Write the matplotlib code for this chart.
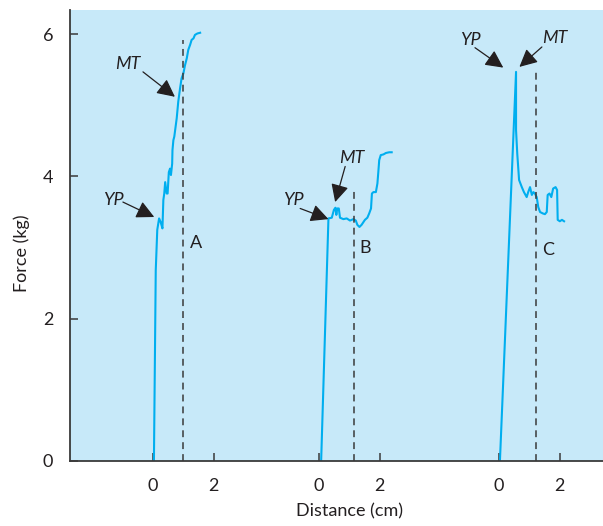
import numpy as np
import matplotlib.pyplot as plt

plt.rcParams['font.family'] = ['Lato', 'DejaVu Sans']

# Force-distance traces (distance in cm from each panel's own zero, force in kg)
trace_a_x = [0.04, 0.10, 0.15, 0.21, 0.26, 0.32, 0.35, 0.38, 0.41, 0.46, 0.49, 0.53, 0.57,
             0.60, 0.64, 0.65, 0.68, 0.71, 0.79, 0.84, 0.90, 0.95, 1.01, 1.06, 1.12,
             1.17, 1.23, 1.28, 1.34, 1.39, 1.47, 1.56]
trace_a_y = [0.00, 2.68, 3.25, 3.41, 3.36, 3.27, 3.67, 3.76, 3.92, 3.76, 3.76, 4.06, 4.11,
             4.02, 4.18, 4.37, 4.51, 4.56, 4.82, 5.05, 5.24, 5.38, 5.45, 5.56, 5.66,
             5.78, 5.85, 5.92, 5.94, 5.99, 6.01, 6.02]

trace_b_x = [0.08, 0.32, 0.43, 0.50, 0.55, 0.58, 0.61, 0.66, 0.70, 0.81, 0.92, 1.03, 1.14,
             1.22, 1.27, 1.34, 1.41, 1.52, 1.60, 1.66, 1.72, 1.75, 1.80, 1.88, 1.93,
             1.96, 1.99, 2.04, 2.13, 2.21, 2.32, 2.40]
trace_b_y = [0.00, 3.41, 3.42, 3.53, 3.56, 3.46, 3.55, 3.55, 3.42, 3.40, 3.41, 3.38, 3.40,
             3.38, 3.32, 3.29, 3.32, 3.39, 3.42, 3.48, 3.55, 3.76, 3.78, 3.78, 3.90,
             4.06, 4.23, 4.30, 4.31, 4.33, 4.34, 4.34]

trace_c_x = [0.03, 0.56, 0.56, 0.60, 0.66, 0.75, 0.82, 0.91, 0.96, 1.02, 1.08, 1.13, 1.18,
             1.24, 1.29, 1.35, 1.44, 1.51, 1.57, 1.60, 1.66, 1.72, 1.78, 1.86, 1.91,
             1.93, 2.00, 2.07, 2.14]
trace_c_y = [0.00, 5.47, 4.65, 4.32, 3.95, 3.85, 3.78, 3.71, 3.78, 3.85, 3.74, 3.78, 3.76,
             3.71, 3.57, 3.50, 3.48, 3.47, 3.50, 3.74, 3.76, 3.71, 3.83, 3.85, 3.81,
             3.39, 3.37, 3.39, 3.37]

panel_offsets = [0.0, 5.46, 11.39]
panel_names = ['A', 'B', 'C']
# dashed marker lines: x position (cm) and height (kg)
dash_x = [0.99, 1.15, 1.23]
dash_top = [5.92, 3.81, 5.47]

x_ticks = [0, 2]
y_ticks = [0, 2, 4, 6]

line_col = '#00aeef'
ink = '#231f20'
axis_col = '#3a3a3a'
fs = 13

fig = plt.figure(figsize=(6.03, 5.26), dpi=100)
ax = fig.add_axes([0.1161, 0.1236, 0.8839, 0.8574])
ax.set_facecolor('#c7e9f9')

traces = [(trace_a_x, trace_a_y), (trace_b_x, trace_b_y), (trace_c_x, trace_c_y)]
for (tx, ty), off in zip(traces, panel_offsets):
    ax.plot(np.array(tx) + off, ty, color=line_col, lw=1.5, solid_joinstyle='round')

for off, dx, top in zip(panel_offsets, dash_x, dash_top):
    ax.plot([off + dx, off + dx], [0, top], color=axis_col, lw=1.1,
            dashes=(4.5, 3.3))

# panel letters
letter_pos = [(1.42, 3.06), (6.98, 2.99), (13.0, 2.96)]
for name, (lx, ly) in zip(panel_names, letter_pos):
    ax.text(lx, ly, name, fontsize=fs, color=ink, ha='center', va='center')

# YP / MT arrows: (text, text pos, arrow tail, arrow tip)
notes = [
    ('MT', (-0.81, 5.58), (-0.32, 5.47), (0.73, 5.12)),
    ('YP', (-1.30, 3.67), (-0.98, 3.64), (0.05, 3.43)),
    ('YP', (4.61, 3.67), (4.85, 3.55), (5.78, 3.40)),
    ('MT', (6.56, 4.26), (6.33, 4.14), (6.00, 3.64)),
    ('YP', (10.44, 5.92), (10.60, 5.81), (11.53, 5.53)),
    ('MT', (13.23, 5.94), (12.80, 5.82), (12.06, 5.54)),
]
for label, tpos, tail, tip in notes:
    ax.text(tpos[0], tpos[1], label, fontsize=fs, style='italic', color=ink,
            ha='center', va='center')
    ax.annotate('', xy=tip, xytext=tail,
                arrowprops=dict(arrowstyle='-|>,head_length=0.9,head_width=0.45',
                                mutation_scale=12, color=ink, lw=0.9,
                                shrinkA=0, shrinkB=0))

ax.set_xlim(-2.72, 14.81)
ax.set_ylim(0, 6.34)

xt = [off + t for off in panel_offsets for t in x_ticks]
ax.set_xticks(xt)
ax.set_xticklabels([str(t) for off in panel_offsets for t in x_ticks])
ax.set_yticks(y_ticks)
ax.tick_params(direction='in', length=6, width=1.1, colors=axis_col,
               labelcolor=ink, labelsize=fs)
ax.tick_params(axis='x', pad=12)
ax.tick_params(axis='y', pad=12)

for s in ['top', 'right']:
    ax.spines[s].set_visible(False)
for s in ['left', 'bottom']:
    ax.spines[s].set_color(axis_col)
    ax.spines[s].set_linewidth(1.3)

ax.set_xlabel('Distance (cm)', fontsize=fs, color=ink)
ax.set_ylabel('Force (kg)', fontsize=fs, color=ink)
ax.xaxis.set_label_coords(0.525, -0.093)
ax.yaxis.set_label_coords(-0.075, 0.46)

fig.savefig('out.png', dpi=100)
